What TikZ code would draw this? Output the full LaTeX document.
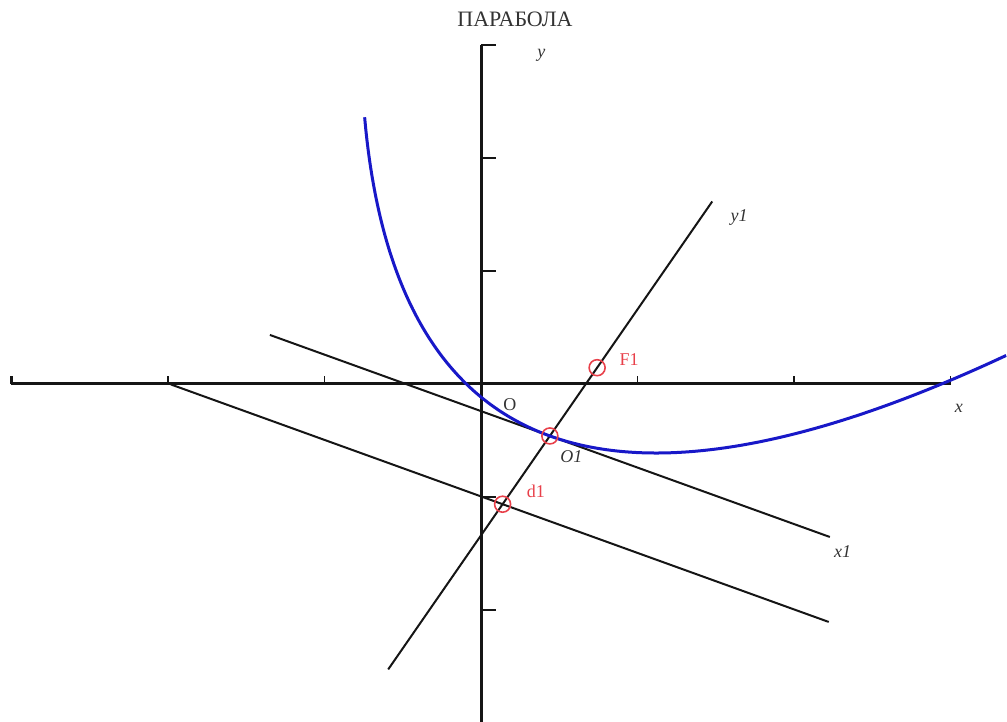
\documentclass[tikz,border=0pt]{standalone}
\usepackage{fontspec}
\setmainfont{Liberation Serif}
\usepackage{xcolor}
\usetikzlibrary{positioning,calc}
\definecolor{cCurve}{HTML}{1818C8}
\definecolor{cMark}{HTML}{E8404A}
\definecolor{cInk}{HTML}{151515}
\definecolor{cTxt}{HTML}{333333}

\begin{document}
\begin{tikzpicture}[x=78.25pt,y=56.5pt,font=\fontsize{9}{10}\selectfont,
  axis/.style={line width=1.5pt,cInk},
  tickmark/.style={line width=0.9pt,cInk},
  rline/.style={line width=1pt,cInk},
  parab/.style={line width=1.5pt,cCurve},
  mk/.style={circle,draw=cMark,line width=0.8pt,minimum size=8pt,inner sep=0pt},
  lbl/.style={inner sep=1pt,text=cTxt},
  rlbl/.style={lbl,text=cMark}]
  \useasboundingbox (-3.0735,-2.991) rectangle (3.361,3.398);
  % axes
  \coordinate (O) at (0,0);
  \coordinate (xl) at (-3,0);
  \coordinate (xr) at (3,0);
  \coordinate (yt) at (0,3);
  \coordinate (yb) at (0,-2.99);
  \draw[axis] (xl) -- (xr);
  \draw[axis] (yb) -- (yt);
  \draw[axis] (xl) -- ++(0,4pt);
  \foreach \k in {-2,-1,1,2,3}
    \draw[tickmark] (\k,0) -- ++(0,4pt);
  \foreach \k in {-2,...,3}
    \draw[tickmark] (0,\k) -- ++(7.5pt,0);
  % new frame: vertex, focus, directrix point
  \coordinate (pO1) at (0.44,-0.46);
  \coordinate (pF1) at ($(pO1)+(0.302,0.604)$);
  \coordinate (pd1) at ($(pO1)-(0.302,0.604)$);
  \coordinate (x1a) at ($(pO1)+(-1.789,0.894)$);
  \coordinate (x1b) at ($(pO1)+(1.789,-0.894)$);
  \coordinate (da) at ($(pd1)+(-2.12,1.06)$);
  \coordinate (db) at ($(pd1)+(2.084,-1.042)$);
  \coordinate (y1a) at ($(pO1)+(-1.033,-2.066)$);
  \coordinate (y1b) at ($(pO1)+(1.0375,2.075)$);
  \draw[rline] (x1a) -- (x1b);
  \draw[rline] (da) -- (db);
  \draw[rline] (y1a) -- (y1b);
  % the curve
  \draw[parab] plot[domain=-2.32:2.29,samples=90,smooth]
    ({0.44+0.8944*\x+0.4472*\x*\x/2.7},{-0.46-0.4472*\x+0.8944*\x*\x/2.7});
  \node[mk] (O1) at (pO1) {};
  \node[mk] (F1) at (pF1) {};
  \node[mk] (d1) at (pd1) {};
  % labels
  \node[lbl,above=8pt of yt,xshift=17pt,font=\fontsize{11}{13}\selectfont] (title) {ПАРАБОЛА};
  \node[lbl,below right=1pt and 27pt of yt] (ylab) {\textit{y}};
  \node[lbl,below right=9pt and 1pt of xr] (xlab) {\textit{x}};
  \node[lbl,below right=3pt and 8pt of y1b] (y1lab) {\textit{y1}};
  \node[lbl,below right=3pt and 1pt of x1b] (x1lab) {\textit{x1}};
  \node[lbl,below right=6pt and 10pt of O] (olab) {O};
  \node[lbl,below right=6pt and 4pt of O1.center] (o1lab) {\textit{O1}};
  \node[rlbl,above right=0pt and 10pt of F1.center] (f1lab) {F1};
  \node[rlbl,above right=2pt and 11pt of d1.center] (d1lab) {d1};
\end{tikzpicture}
\end{document}
